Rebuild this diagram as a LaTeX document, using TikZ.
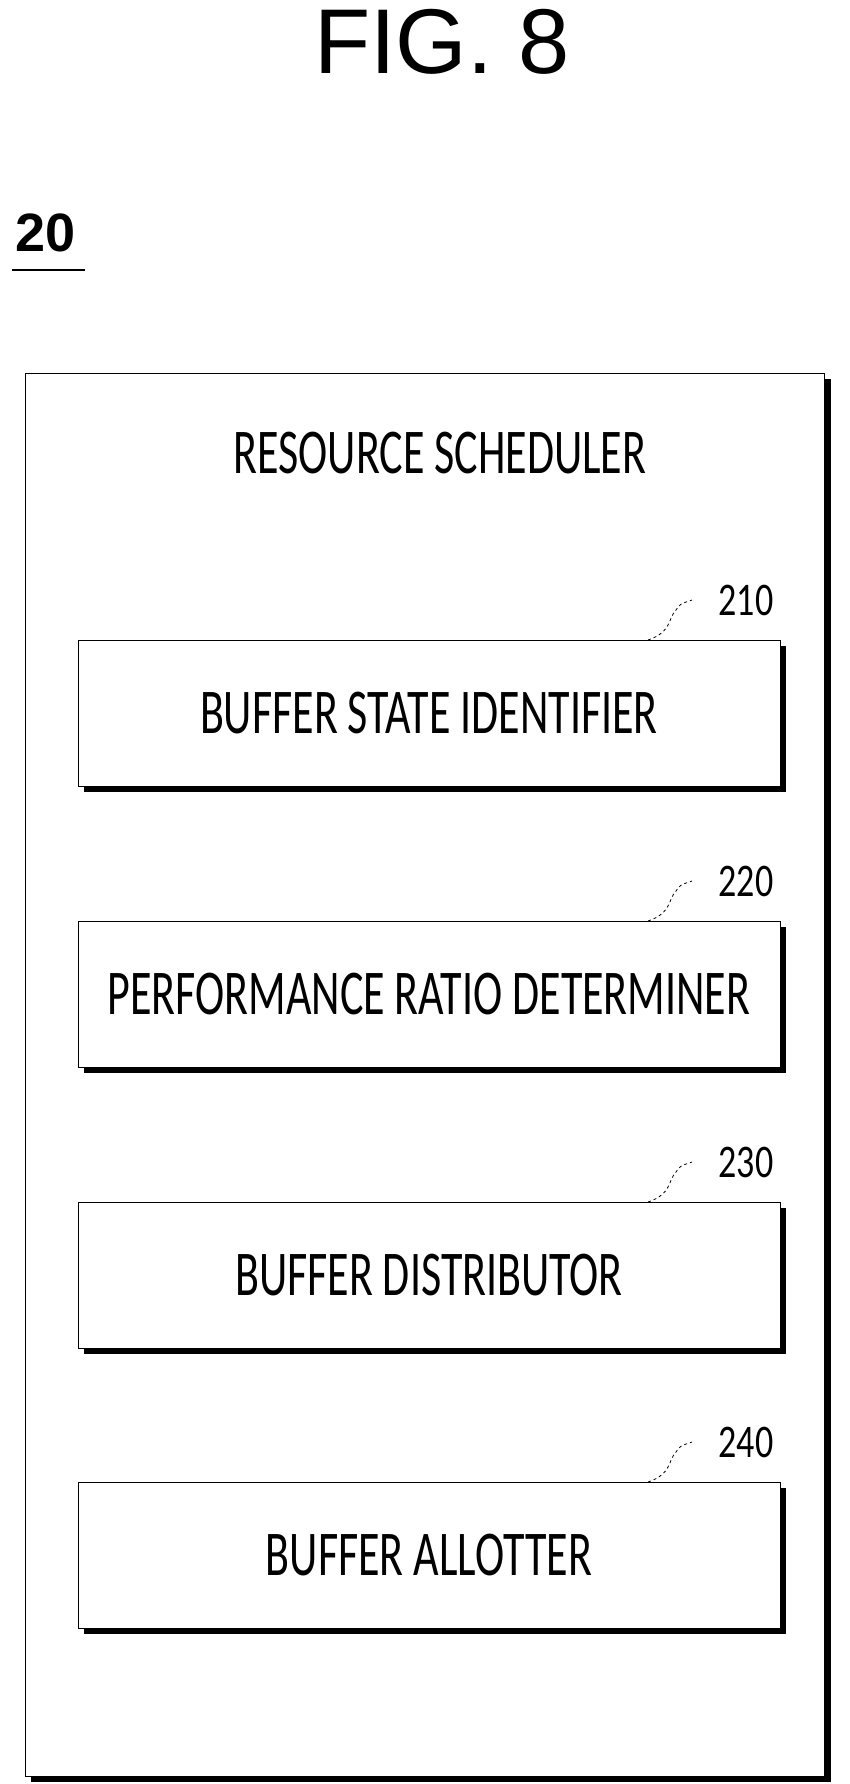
\documentclass[tikz,border=0pt]{standalone}
\usepackage{fontspec}
\setmainfont{Carlito}
\newfontfamily\figfont{Liberation Sans}
\begin{document}
\begin{tikzpicture}[x=1pt,y=-1pt,
  shadowbox/.style={draw,line width=0.8pt,fill=white},
  lbl/.style={font=\fontsize{44}{48}\selectfont},
  num/.style={font=\fontsize{36}{40}\selectfont}]
\useasboundingbox (0,0) rectangle (849,1784);
\node[font=\figfont\fontsize{92}{96}\selectfont] (fig) at (442,42) {FIG. 8};
\node[font=\figfont\bfseries\fontsize{54}{58}\selectfont] (twenty) at (46,233) {20};
\draw[line width=1.2pt] (12,270) -- (85,270);
% outer box
\fill (31,379) rectangle (831,1782);
\draw[shadowbox] (25,373) rectangle (824,1776);
\node[lbl] (rs) at (440,453) {\scalebox{1}[1.45]{RESOURCE SCHEDULER}};
\foreach \t/\n/\lab in {640/210/BUFFER STATE IDENTIFIER, 921/220/PERFORMANCE RATIO DETERMINER, 1202/230/BUFFER DISTRIBUTOR, 1482/240/BUFFER ALLOTTER}{
  \fill (84,\t+6) rectangle (786,\t+152);
  \draw[shadowbox] (78,\t) rectangle (780,\t+146);
  \node[lbl] (b\n) at (429,\t+73) {\scalebox{1}[1.45]{\lab}};
  \node[num] (n\n) at (746,\t-40) {\scalebox{1}[1.3]{\n}};
  \draw[line width=0.8pt,dashed] (648,\t) .. controls (672,\t-8) and (668,\t-22) .. (676,\t-30) .. controls (680,\t-36) .. (692,\t-40);
}
\end{tikzpicture}
\end{document}
